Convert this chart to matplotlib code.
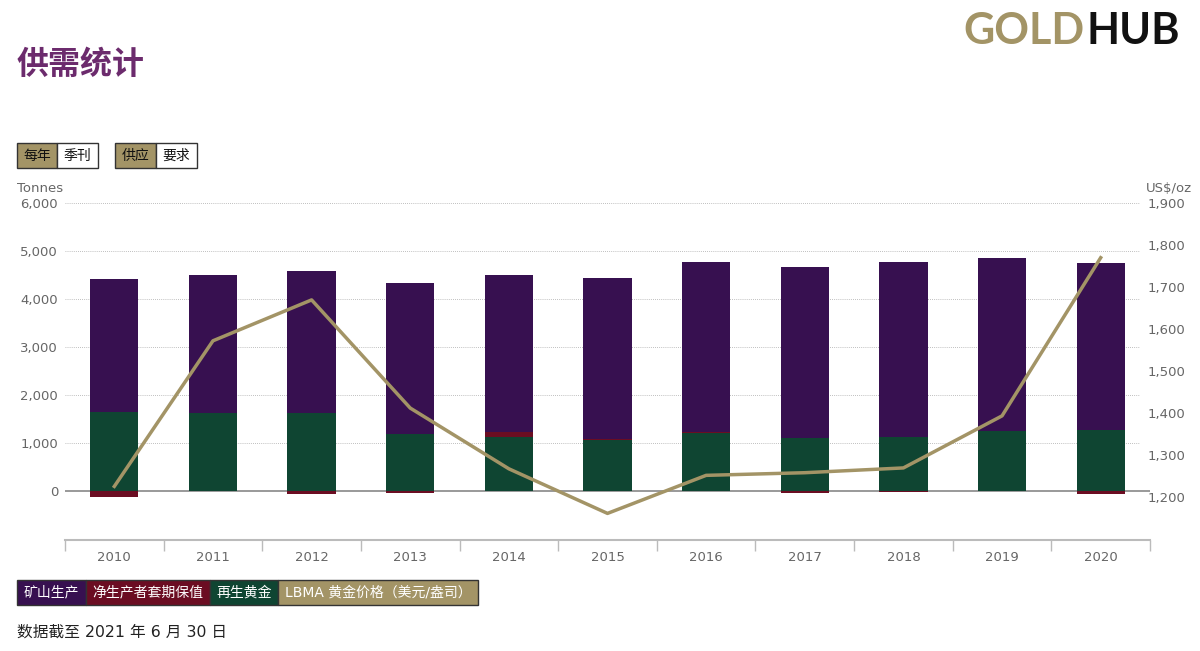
import numpy as np
import matplotlib.pyplot as plt
from matplotlib.patches import Rectangle

plt.rcParams['font.family'] = ['DejaVu Sans', 'Noto Sans CJK SC']

# Data (tonnes and US$/oz)
years = ['2010', '2011', '2012', '2013', '2014', '2015', '2016', '2017', '2018', '2019', '2020']
mine = [2765, 2871, 2965, 3146, 3270, 3362, 3537, 3570, 3653, 3598, 3479]
hedging = [-130, 11, -60, -45, 105, 13, 33, -45, -15, 6, -60]
recycling = [1652, 1618, 1618, 1187, 1125, 1062, 1201, 1097, 1118, 1250, 1271]
price = [1224.5, 1571.5, 1669.0, 1411.2, 1266.4, 1160.1, 1250.8, 1257.1, 1268.5, 1392.6, 1769.6]

legend_labels = ['矿山生产', '净生产者套期保值', '再生黄金', 'LBMA 黄金价格（美元/盎司）']

c_mine = '#371050'
c_hedge = '#6b0d22'
c_recyc = '#0f4532'
c_gold = '#a39466'
c_grid = '#aaaaaa'
c_text = '#666666'

fig = plt.figure(figsize=(12, 6.51), dpi=100)
ax = fig.add_axes([65 / 1200, 1 - 540 / 651, 1085 / 1200, 337 / 651])
ax2 = ax.twinx()

x = np.arange(len(years))
w = 0.49
hedge = np.array(hedging)
pos_hedge = np.clip(hedge, 0, None)
neg_hedge = np.clip(hedge, None, 0)

ax.bar(x, recycling, w, color=c_recyc, zorder=3)
ax.bar(x, pos_hedge, w, bottom=recycling, color=c_hedge, zorder=3)
ax.bar(x, neg_hedge, w, color=c_hedge, zorder=3)
ax.bar(x, mine, w, bottom=np.array(recycling) + pos_hedge, color=c_mine, zorder=3)

ax.set_xlim(-0.5, len(years) - 0.5)
ax.set_ylim(-1021, 6000)
ax.set_yticks(range(0, 6001, 1000))
ax.set_yticklabels([f'{v:,}' for v in range(0, 6001, 1000)])
for v in range(1000, 6001, 1000):
    ax.axhline(v, color=c_grid, lw=0.6, ls=(0, (1, 1.5)), zorder=1, xmax=0.99)
ax.axhline(0, color='#888888', lw=1.2, zorder=2)

ax.set_xticks(x)
ax.set_xticklabels(years)
ax.set_xticks(np.arange(-0.5, len(years), 1), minor=True)
ax.tick_params(axis='x', which='major', length=0, pad=8, colors=c_text, labelsize=9.5)
ax.tick_params(axis='x', which='minor', length=8, color='#bbbbbb', width=1)
ax.tick_params(axis='y', length=0, pad=5, colors=c_text, labelsize=9.5)
for s in ['top', 'left', 'right']:
    ax.spines[s].set_visible(False)
    ax2.spines[s].set_visible(False)
ax.spines['bottom'].set_color('#bbbbbb')
ax.spines['bottom'].set_linewidth(1.5)
ax2.spines['bottom'].set_visible(False)

ax2.plot(x, price, color=c_gold, lw=2.5, zorder=5)
ax2.set_ylim(1096.7, 1900)
ax2.set_yticks(range(1200, 1901, 100))
ax2.set_yticklabels([f'{v:,}' for v in range(1200, 1901, 100)])
ax2.tick_params(axis='y', length=0, pad=-2, colors=c_text, labelsize=9.5)

fig.text(17 / 1200, 1 - 189 / 651, 'Tonnes', color=c_text, fontsize=9.5, va='center')
fig.text(1146 / 1200, 1 - 189 / 651, 'US$/oz', color=c_text, fontsize=9.5, va='center')

# title and logo
fig.text(17 / 1200, 1 - 65 / 651, '供需统计', color='#6c2b6d', fontsize=23, fontweight='bold',
         family=['Noto Sans CJK SC'], va='center')
fig.text(963 / 1200, 1 - 31 / 651, 'GOLD', color=c_gold, fontsize=31, family='Lato',
         fontweight='bold', va='center')
fig.text(1087 / 1200, 1 - 31 / 651, 'HUB', color='#111111', fontsize=31, family='Lato',
         fontweight='bold', va='center')

# toggle buttons
def box(x0, x1, y0, y1, face, label, tcolor, size=10):
    fig.patches.append(Rectangle((x0 / 1200, 1 - y1 / 651), (x1 - x0) / 1200, (y1 - y0) / 651,
                                 transform=fig.transFigure, facecolor=face, edgecolor='#333333',
                                 lw=1, zorder=1))
    fig.text((x0 + x1) / 2 / 1200, 1 - (y0 + y1) / 2 / 651, label, color=tcolor, fontsize=size,
             ha='center', va='center', zorder=2)

box(17, 57, 143, 168, c_gold, '每年', '#111111')
box(57, 98, 143, 168, 'white', '季刊', '#111111')
box(115, 156, 143, 168, c_gold, '供应', '#111111')
box(156, 197, 143, 168, 'white', '要求', '#111111')

# legend
leg_x = [17, 86, 210, 278, 478]
leg_c = [c_mine, c_hedge, c_recyc, c_gold]
for i, lab in enumerate(legend_labels):
    box(leg_x[i], leg_x[i + 1], 580, 605, leg_c[i], lab, 'white', size=10)

fig.text(17 / 1200, 1 - 632 / 651, '数据截至 2021 年 6 月 30 日', color='#222222', fontsize=11.3,
         va='center')

fig.savefig('out.png', dpi=100)
